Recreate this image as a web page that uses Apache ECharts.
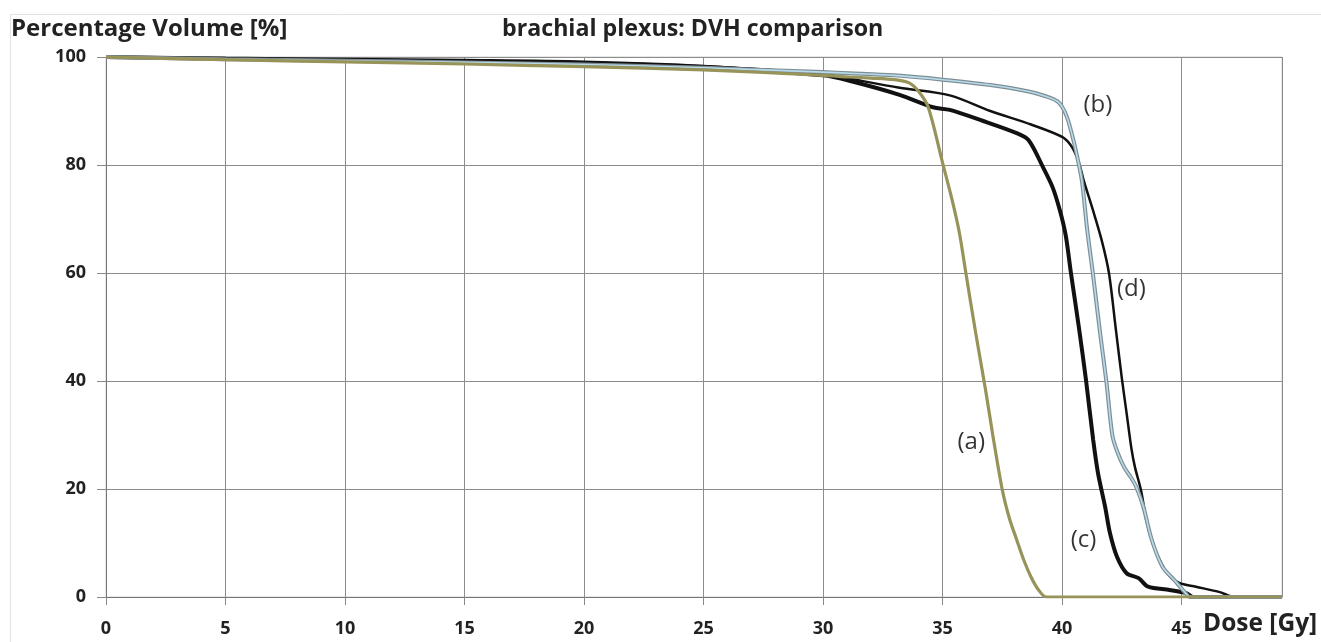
<!DOCTYPE html>
<html>
<head>
<meta charset="utf-8">
<script src="https://cdn.jsdelivr.net/npm/echarts@6/dist/echarts.min.js"></script>
<style>
html,body{margin:0;padding:0;background:#fff;}
#chart{width:1321px;height:642px;}
</style>
</head>
<body>
<div id="chart"></div>
<script>
// ---- data ----
const chartTitle = 'brachial plexus: DVH comparison';
const yAxisName = 'Percentage Volume [%]';
const xAxisName = 'Dose [Gy]';
const xTicks = [0, 5, 10, 15, 20, 25, 30, 35, 40, 45];
const yTicks = [0, 20, 40, 60, 80, 100];

// (a) olive curve
const doseA = [0, 5, 10, 15, 20, 25, 30, 31.1, 32, 33, 33.6, 34.0, 34.4, 35.0, 35.4, 35.7, 36.0, 36.4, 36.8, 37.1, 37.5, 37.8, 38.1, 38.4, 38.7, 39.0, 39.35, 49.2];
const volA  = [100, 99.5, 99.1, 98.7, 98.2, 97.6, 96.6, 96.3, 96.1, 95.8, 95.2, 93.6, 90.7, 80.4, 73.5, 67.5, 59.3, 48.5, 38.3, 30, 19.8, 14.5, 10.6, 6.8, 3.7, 1.4, 0, 0];

// (b) light blue curve
const doseB = [0, 5, 10, 15, 20, 25, 30, 31.1, 33, 35, 37, 38.6, 39.4, 39.8, 40.0, 40.2, 40.4, 40.6, 40.83, 41.05, 41.3, 41.6, 41.85, 42.1, 42.3, 42.6, 42.9, 43.1, 43.4, 43.75, 44.2, 44.7, 45.15, 45.35, 49.2];
const volB  = [100, 99.6, 99.3, 99.0, 98.6, 98.0, 97.2, 97.0, 96.6, 95.8, 94.8, 93.6, 92.6, 91.8, 90.8, 88.9, 85.9, 82.2, 77, 68, 59.5, 48.5, 40, 30, 27, 24, 22, 20.4, 16.7, 10.6, 5.6, 3.1, 0.8, 0, 0];

// (c) thick black dotted curve
const doseC = [0, 5, 10, 15, 20, 25, 30, 31.1, 33.2, 34.6, 35.3, 36.6, 38.1, 38.6, 39.2, 39.6, 39.9, 40.15, 40.37, 40.7, 41.0, 41.3, 41.5, 41.8, 42.0, 42.3, 42.7, 43.2, 43.6, 44.5, 45.2, 45.5, 49.2];
const volC  = [100, 99.7, 99.5, 99.3, 99.0, 98.2, 96.6, 95.6, 93.0, 90.7, 90.2, 88.3, 85.9, 84.6, 79.6, 75.9, 71.7, 67, 60, 50, 40.2, 29.1, 23, 16.7, 11.9, 7.4, 4.4, 3.5, 1.9, 1.3, 0.7, 0, 0];

// (d) thin black curve
const doseD = [0, 5, 10, 15, 20, 25, 30, 31.1, 33.2, 35.3, 37.0, 38.7, 40.0, 40.4, 40.7, 40.9, 41.3, 41.66, 41.96, 42.25, 42.5, 42.7, 42.9, 43.05, 43.3, 43.55, 43.9, 44.4, 44.9, 45.6, 46.6, 47.2, 49.2];
const volD  = [100, 99.7, 99.5, 99.3, 99.0, 98.3, 96.9, 96.0, 94.3, 92.9, 90.0, 87.5, 85.2, 83.4, 80.5, 77.2, 71.5, 66, 60, 49.5, 40.5, 34, 27.5, 24, 19.8, 13.7, 8.7, 4.4, 2.6, 1.9, 0.9, 0, 0];

// curve annotations (text, dose, volume)
const noteText = ['(a)', '(b)', '(c)', '(d)'];
const noteDose = [36.2, 41.5, 40.9, 42.9];
const noteVol  = [28.7, 91.0, 10.6, 57.0];

// ---- build chart ----
const pairs = (xs, ys) => xs.map((x, i) => [x, ys[i]]);
const FONT = '"Open Sans", "DejaVu Sans", sans-serif';

const chart = echarts.init(document.getElementById('chart'), null, {renderer: 'canvas'});

const lineBase = {type: 'line', showSymbol: false, symbol: 'none', smooth: 0.3, animation: false};

chart.setOption({
  backgroundColor: '#ffffff',
  animation: false,
  title: [
    {text: chartTitle, left: 497, top: 13, textStyle: {fontFamily: FONT, fontWeight: 'bold', fontSize: 23.2, color: '#222'}},
    {text: yAxisName, left: 6, top: 12, textStyle: {fontFamily: FONT, fontWeight: 'bold', fontSize: 24, color: '#222'}}
  ],
  graphic: [
    {type: 'rect', left: 8, top: 12, shape: {width: 1400, height: 700}, style: {fill: 'none', stroke: '#e2e2e2', lineWidth: 1}, silent: true, z: -10}
  ],
  grid: {left: 106, right: 39, top: 57, bottom: 45, show: true, borderColor: '#cfcfcf', borderWidth: 1, backgroundColor: 'transparent'},
  xAxis: {
    type: 'value', min: 0, max: 49.2, interval: 5,
    name: xAxisName, nameLocation: 'end', nameGap: -79,
    nameTextStyle: {fontFamily: FONT, fontWeight: 'bold', fontSize: 24.5, color: '#222', align: 'left', verticalAlign: 'top', padding: [15, 0, 0, 0]},
    axisLine: {show: true, lineStyle: {color: '#777', width: 1}},
    axisTick: {show: true, length: 8, lineStyle: {color: '#888'}},
    axisLabel: {showMaxLabel: false, margin: 23, fontFamily: FONT, fontWeight: 'bold', fontSize: 18, color: '#222',
      formatter: v => (xTicks.indexOf(v) >= 0 ? String(v) : '')},
    splitLine: {show: true, lineStyle: {color: '#8c8c8c', width: 1}}
  },
  yAxis: {
    type: 'value', min: 0, max: 100, interval: 20,
    axisLine: {show: true, lineStyle: {color: '#777', width: 1}},
    axisTick: {show: true, length: 9, lineStyle: {color: '#888'}},
    axisLabel: {margin: 20, fontFamily: FONT, fontWeight: 'bold', fontSize: 18, color: '#222',
      formatter: v => (yTicks.indexOf(v) >= 0 ? String(v) : '')},
    splitLine: {show: true, lineStyle: {color: '#8c8c8c', width: 1}}
  },
  series: [
    Object.assign({}, lineBase, {name: '(c)', data: pairs(doseC, volC), z: 3, lineStyle: {color: '#111', width: 4}}),
    Object.assign({}, lineBase, {name: '(d)', data: pairs(doseD, volD), z: 4, lineStyle: {color: '#111', width: 2.5}}),
    Object.assign({}, lineBase, {name: '(b) outline', data: pairs(doseB, volB), z: 5, lineStyle: {color: '#7f8e95', width: 4}}),
    Object.assign({}, lineBase, {name: '(b)', data: pairs(doseB, volB), z: 6, lineStyle: {color: '#b7dbea', width: 1.6}}),
    Object.assign({}, lineBase, {name: '(a)', data: pairs(doseA, volA), z: 7, lineStyle: {color: '#979359', width: 3.2}}),
    {
      type: 'scatter', name: 'notes', symbolSize: 1, itemStyle: {color: 'rgba(0,0,0,0)'}, z: 10,
      data: noteText.map((t, i) => ({name: t, value: [noteDose[i], noteVol[i]]})),
      label: {show: true, position: 'inside', formatter: p => p.name, fontFamily: FONT, fontSize: 24, color: '#000'}
    }
  ]
});
</script>
</body>
</html>
